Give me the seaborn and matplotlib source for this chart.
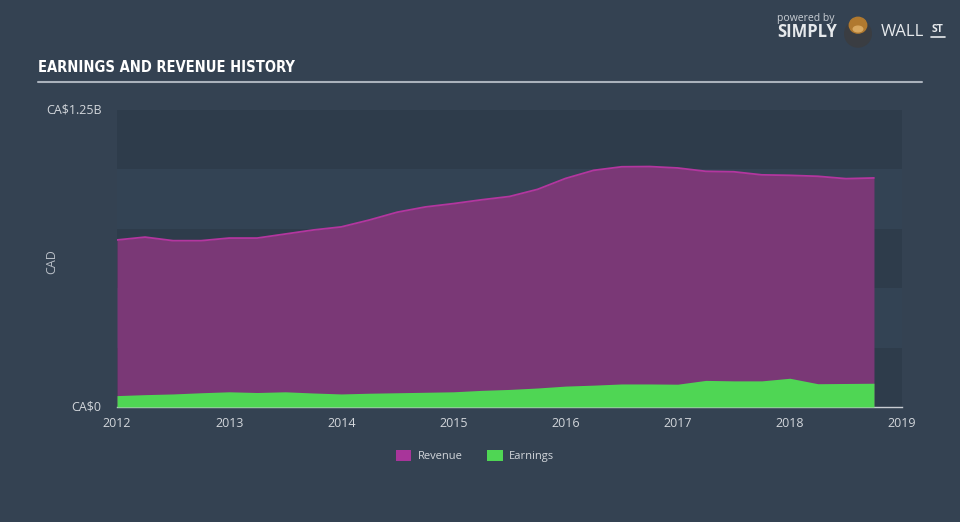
import matplotlib
matplotlib.use("Agg")
import matplotlib.pyplot as plt
import seaborn as sns
import pandas as pd
from matplotlib.patches import Patch, Circle, Ellipse

# ---- data (CA$ billions, quarterly) ----
years = [2012.0, 2012.25, 2012.5, 2012.75, 2013.0, 2013.25, 2013.5, 2013.75,
         2014.0, 2014.25, 2014.5, 2014.75, 2015.0, 2015.25, 2015.5, 2015.75,
         2016.0, 2016.25, 2016.5, 2016.75, 2017.0, 2017.25, 2017.5, 2017.75,
         2018.0, 2018.25, 2018.5, 2018.75]
revenue = [0.703, 0.715, 0.700, 0.700, 0.711, 0.711, 0.728, 0.745,
           0.758, 0.787, 0.820, 0.842, 0.856, 0.872, 0.886, 0.916,
           0.962, 0.996, 1.011, 1.012, 1.006, 0.992, 0.990, 0.977,
           0.975, 0.971, 0.961, 0.964]
earnings = [0.048, 0.052, 0.055, 0.060, 0.064, 0.061, 0.064, 0.059,
            0.055, 0.058, 0.060, 0.062, 0.064, 0.070, 0.074, 0.080,
            0.088, 0.092, 0.097, 0.097, 0.096, 0.112, 0.110, 0.110,
            0.121, 0.098, 0.099, 0.100]
xticks = [2012, 2013, 2014, 2015, 2016, 2017, 2018, 2019]
ytick_vals = [0, 1.25]
ytick_labels = ["CA$0", "CA$1.25B"]
legend_labels = ["Revenue", "Earnings"]

df = pd.DataFrame({"year": years, "revenue": revenue, "earnings": earnings})

BG = "#344252"
BAND_DARK = "#2e3c4b"
BAND_LIGHT = "#334354"
REV_FILL = "#7a3876"
REV_LINE = "#b3369f"
EARN = "#4fd654"
TXT = "#d2d6db"

sns.set_style("dark")
plt.rcParams["font.family"] = ["Open Sans", "DejaVu Sans"]

fig = plt.figure(figsize=(9.6, 5.22), dpi=100, facecolor=BG)
ax = fig.add_axes([117/960, 1-407/522, (902-117)/960, (407-110)/522])
ax.set_facecolor(BG)

# alternating bands
edges = [0, 0.25, 0.5, 0.75, 1.0, 1.25]
for i in range(5):
    ax.axhspan(edges[i], edges[i+1], color=BAND_DARK if i % 2 == 0 else BAND_LIGHT, lw=0, zorder=0)

ax.fill_between(df["year"], 0, df["revenue"], color=REV_FILL, lw=0, zorder=2)
sns.lineplot(data=df, x="year", y="revenue", ax=ax, color=REV_LINE, lw=1.3, zorder=3)
ax.fill_between(df["year"], 0, df["earnings"], color=EARN, lw=0, zorder=4)

ax.set_xlim(2012, 2019)
ax.set_ylim(0, 1.25)
ax.set_xticks(xticks)
ax.set_xticklabels([str(x) for x in xticks], color=TXT, fontsize=9)
ax.set_yticks(ytick_vals)
ax.set_yticklabels(ytick_labels, color=TXT, fontsize=9)
ax.tick_params(axis="y", length=0, pad=11)
ax.tick_params(axis="x", length=6, color="#c8ccd2", width=1, pad=1)
for lbl in ax.get_yticklabels():
    lbl.set_verticalalignment("center")
ax.set_xlabel("")
ax.set_ylabel("CAD", color="#b8bec6", fontsize=9)
ax.yaxis.set_label_coords(-0.075, 0.49)
for s in ["top", "right", "left"]:
    ax.spines[s].set_visible(False)
ax.spines["bottom"].set_color("#c8ccd2")
ax.spines["bottom"].set_linewidth(1)
ax.grid(False)

# title + rule
fig.text(38/960, 1-68/522, "EARNINGS AND REVENUE HISTORY", color="white",
         fontsize=10.5, fontweight="bold", fontstretch="condensed", va="center", ha="left",
         family=["DejaVu Sans"])
fig.add_artist(plt.Line2D([38/960, 922/960], [1-82/522, 1-82/522], color="#aab2bc", lw=1.5))

# branding
fig.text(806/960, 1-18/522, "powered by", color="#c9ced4", fontsize=7.5, ha="center", va="center")
fig.text(807/960, 1-32/522, "SIMPLY", color="#e6e9ec", fontsize=12, fontweight="bold", ha="center", va="center")
fig.text(902/960, 1-32/522, "WALL", color="#e6e9ec", fontsize=12, ha="center", va="center")
fig.text(938/960, 1-29/522, "ST", color="#e6e9ec", fontsize=7.5, fontweight="bold", ha="center", va="center")
fig.add_artist(plt.Line2D([931/960, 945/960], [1-37/522, 1-37/522], color="#e6e9ec", lw=1.2))
logo = fig.add_axes([842/960, 1-48/522, 32/960, 38/522])
logo.set_xlim(0, 1); logo.set_ylim(0, 1.2); logo.axis("off"); logo.set_aspect("equal")
logo.add_patch(Circle((0.5, 0.45), 0.42, color="#3a3d42"))
logo.add_patch(Ellipse((0.5, 0.72), 0.55, 0.5, color="#b0792f"))
logo.add_patch(Ellipse((0.5, 0.6), 0.3, 0.18, color="#d8a860"))

# legend
handles = [Patch(facecolor="#a8359a", edgecolor="none"), Patch(facecolor=EARN, edgecolor="none")]
leg = fig.legend(handles, legend_labels, loc="center", bbox_to_anchor=(475/960, 1-456/522),
                 ncol=2, frameon=False, fontsize=8, labelcolor=TXT,
                 handlelength=1.4, handleheight=1.1, columnspacing=2.2, handletextpad=0.6)

fig.savefig("out.png", dpi=100, facecolor=BG)
